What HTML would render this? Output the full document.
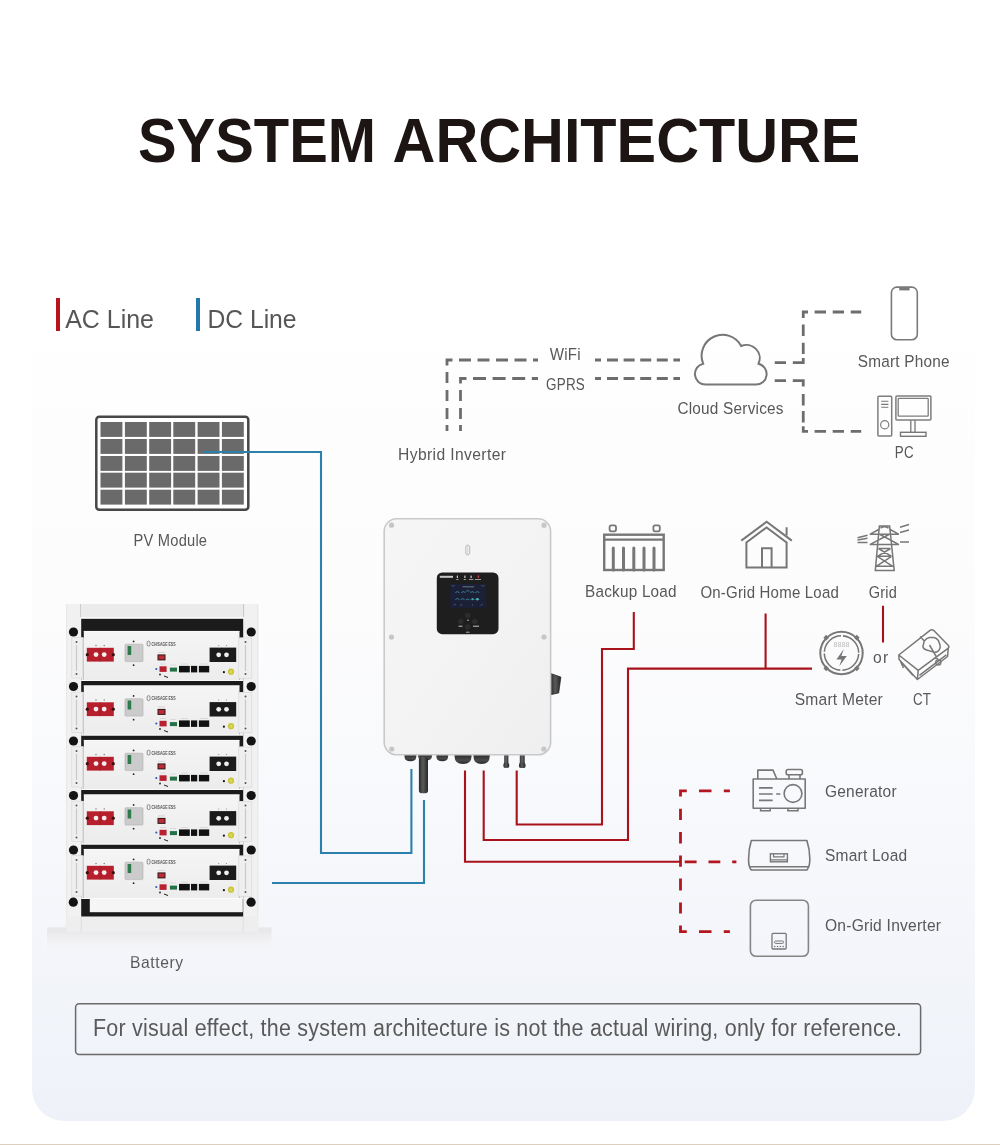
<!DOCTYPE html>
<html><head><meta charset="utf-8">
<style>
html,body{margin:0;padding:0;}
body{width:1000px;height:1145px;overflow:hidden;background:#ffffff;position:relative;font-family:"Liberation Sans",sans-serif;}
.panel{position:absolute;left:32px;top:352px;width:943px;height:769px;border-radius:0 0 32px 32px;background:linear-gradient(180deg,#fefefe 0%,#fcfcfd 35%,#f8f9fc 58%,#f3f5fa 80%,#eef2f8 100%);}
.bline{position:absolute;left:0;top:1143.5px;width:1000px;height:1.5px;background:#dccfbf;}
svg{position:absolute;left:0;top:0;}
text{font-family:"Liberation Sans",sans-serif;}
svg{will-change:transform;}
</style></head>
<body>
<div class="panel"></div>
<div class="bline"></div>
<svg width="1000" height="1145" viewBox="0 0 1000 1145">
<text x="138.00" y="162.00" font-size="63" font-weight="bold" fill="#1d1513" textLength="237.99" lengthAdjust="spacingAndGlyphs" >SYSTEM</text>
<text x="392.60" y="162.00" font-size="63" font-weight="bold" fill="#1d1513" textLength="467.78" lengthAdjust="spacingAndGlyphs" >ARCHITECTURE</text>
<rect x="56" y="298" width="4" height="33" fill="#b8141d"/>
<text x="65.20" y="328.40" font-size="25.5" font-weight="normal" fill="#565656" textLength="88.79" lengthAdjust="spacingAndGlyphs" >AC Line</text>
<rect x="196" y="298" width="4" height="33" fill="#2378ad"/>
<text x="207.40" y="328.40" font-size="25.5" font-weight="normal" fill="#565656" textLength="89.20" lengthAdjust="spacingAndGlyphs" >DC Line</text>
<rect x="96.3" y="416.7" width="152" height="93" rx="3" fill="#ffffff" stroke="#474747" stroke-width="2.5"/>
<rect x="100.5" y="422" width="21.9" height="14.9" fill="#6a6a6a"/>
<rect x="100.5" y="439" width="21.9" height="14.9" fill="#6a6a6a"/>
<rect x="100.5" y="456" width="21.9" height="14.9" fill="#6a6a6a"/>
<rect x="100.5" y="472.7" width="21.9" height="14.9" fill="#6a6a6a"/>
<rect x="100.5" y="489.7" width="21.9" height="14.9" fill="#6a6a6a"/>
<rect x="124.9" y="422" width="21.9" height="14.9" fill="#6a6a6a"/>
<rect x="124.9" y="439" width="21.9" height="14.9" fill="#6a6a6a"/>
<rect x="124.9" y="456" width="21.9" height="14.9" fill="#6a6a6a"/>
<rect x="124.9" y="472.7" width="21.9" height="14.9" fill="#6a6a6a"/>
<rect x="124.9" y="489.7" width="21.9" height="14.9" fill="#6a6a6a"/>
<rect x="149.2" y="422" width="21.9" height="14.9" fill="#6a6a6a"/>
<rect x="149.2" y="439" width="21.9" height="14.9" fill="#6a6a6a"/>
<rect x="149.2" y="456" width="21.9" height="14.9" fill="#6a6a6a"/>
<rect x="149.2" y="472.7" width="21.9" height="14.9" fill="#6a6a6a"/>
<rect x="149.2" y="489.7" width="21.9" height="14.9" fill="#6a6a6a"/>
<rect x="173.3" y="422" width="21.9" height="14.9" fill="#6a6a6a"/>
<rect x="173.3" y="439" width="21.9" height="14.9" fill="#6a6a6a"/>
<rect x="173.3" y="456" width="21.9" height="14.9" fill="#6a6a6a"/>
<rect x="173.3" y="472.7" width="21.9" height="14.9" fill="#6a6a6a"/>
<rect x="173.3" y="489.7" width="21.9" height="14.9" fill="#6a6a6a"/>
<rect x="197.6" y="422" width="21.9" height="14.9" fill="#6a6a6a"/>
<rect x="197.6" y="439" width="21.9" height="14.9" fill="#6a6a6a"/>
<rect x="197.6" y="456" width="21.9" height="14.9" fill="#6a6a6a"/>
<rect x="197.6" y="472.7" width="21.9" height="14.9" fill="#6a6a6a"/>
<rect x="197.6" y="489.7" width="21.9" height="14.9" fill="#6a6a6a"/>
<rect x="221.9" y="422" width="21.9" height="14.9" fill="#6a6a6a"/>
<rect x="221.9" y="439" width="21.9" height="14.9" fill="#6a6a6a"/>
<rect x="221.9" y="456" width="21.9" height="14.9" fill="#6a6a6a"/>
<rect x="221.9" y="472.7" width="21.9" height="14.9" fill="#6a6a6a"/>
<rect x="221.9" y="489.7" width="21.9" height="14.9" fill="#6a6a6a"/>
<path d="M447.00 425.00V431.00M447.00 408.00V419.00M447.00 390.00V401.00M447.00 372.00V383.00M447 365.5V360H452.5M459.00 360.00H471.00M477.50 360.00H489.50M496.00 360.00H508.00M514.50 360.00H526.50M533.00 360.00H538.00M595.00 360.00H601.00M607.00 360.00H618.00M623.60 360.00H634.60M640.20 360.00H651.20M656.80 360.00H667.80M673.40 360.00H680.00M460.50 425.00V431.00M460.50 408.00V419.00M460.50 390.00V401.00M460.5 383.5V378.5H466.5M473.00 378.50H486.00M492.60 378.50H505.60M512.20 378.50H525.20M531.80 378.50H538.00M595.00 378.50H601.00M607.00 378.50H618.00M623.60 378.50H634.60M640.20 378.50H651.20M656.80 378.50H667.80M673.40 378.50H680.00M774.75 362.60H786.00M792.8 362.6H803.25V358M803.25 342.70V354.00M803.25 324.60V336.00M803.25 318V312H808M814.60 312.00H826.00M832.70 312.00H844.00M850.75 312.00H861.20M774.75 380.70H786.00M792.8 380.7H803.25V386.4M803.25 394.00V405.40M803.25 411.00V422.50M803.25 426.3V431.4H808M814.60 431.40H826.00M832.70 431.40H844.00M850.75 431.40H861.20" fill="none" stroke="#6d6d6d" stroke-width="2.8"/>
<path d="M686.8 790.8H680.5V796.5M699.00 790.80H711.50M723.80 790.80H729.90M680.50 808.70V819.90M680.50 832.00V843.60M680.50 855.50V866.70M680.50 878.60V890.50M680.50 902.40V913.60M680.5 925.5V931.7H686.8M699.00 931.70H711.50M723.80 931.70H729.90M684.70 861.80H696.60M708.50 861.80H720.30M732.20 861.80H736.40" fill="none" stroke="#b3161e" stroke-width="2.8"/>
<path d="M203.6 452H321V853H411.4V769M272 883H424V800" fill="none" stroke="#2b80ac" stroke-width="2.1"/>
<path d="M465 770.4V861.8H680.5M483.7 770.4V840H628V668.6H812M516.7 770.4V824.5H602V649H633.8V612M765.6 613.4V668.6M883 605.8V642.5" fill="none" stroke="#a9121b" stroke-width="2.1"/>
<text transform="scale(0.84365616477351 1)" x="158.36" y="546.00" font-size="17.4" font-weight="normal" fill="#585858" style="letter-spacing:0.250px" >PV Module</text>
<text transform="scale(0.9 1)" x="144.33" y="967.70" font-size="17.4" font-weight="normal" fill="#585858" style="letter-spacing:0.665px" >Battery</text>
<text transform="scale(0.9 1)" x="442.22" y="460.50" font-size="17.4" font-weight="normal" fill="#585858" style="letter-spacing:0.421px" >Hybrid Inverter</text>
<text transform="scale(0.8696239509633434 1)" x="632.11" y="359.80" font-size="17.4" font-weight="normal" fill="#585858" style="letter-spacing:0.250px" >WiFi</text>
<text transform="scale(0.7730476053502094 1)" x="706.42" y="389.60" font-size="17.4" font-weight="normal" fill="#585858" style="letter-spacing:0.250px" >GPRS</text>
<text transform="scale(0.8830499314014889 1)" x="767.11" y="414.00" font-size="17.4" font-weight="normal" fill="#585858" style="letter-spacing:0.250px" >Cloud Services</text>
<text transform="scale(0.8822986667486821 1)" x="972.23" y="367.40" font-size="17.4" font-weight="normal" fill="#585858" style="letter-spacing:0.250px" >Smart Phone</text>
<text transform="scale(0.7699049085533187 1)" x="1162.22" y="457.70" font-size="17.4" font-weight="normal" fill="#585858" style="letter-spacing:0.250px" >PC</text>
<text transform="scale(0.87912130144541 1)" x="665.55" y="597.50" font-size="17.4" font-weight="normal" fill="#585858" style="letter-spacing:0.250px" >Backup Load</text>
<text transform="scale(0.8620174569426948 1)" x="812.51" y="598.00" font-size="17.4" font-weight="normal" fill="#585858" style="letter-spacing:0.250px" >On-Grid Home Load</text>
<text transform="scale(0.8358468228897106 1)" x="1039.42" y="598.00" font-size="17.4" font-weight="normal" fill="#585858" style="letter-spacing:0.250px" >Grid</text>
<text transform="scale(0.8969897390890019 1)" x="885.96" y="704.60" font-size="17.4" font-weight="normal" fill="#585858" style="letter-spacing:0.250px" >Smart Meter</text>
<text transform="scale(0.7677805171428328 1)" x="1189.01" y="704.60" font-size="17.4" font-weight="normal" fill="#585858" style="letter-spacing:0.250px" >CT</text>
<text transform="scale(0.9 1)" x="970.00" y="663.20" font-size="17.4" font-weight="normal" fill="#585858" style="letter-spacing:1.420px" >or</text>
<text transform="scale(0.8912700349039273 1)" x="925.65" y="796.60" font-size="17.4" font-weight="normal" fill="#585858" style="letter-spacing:0.250px" >Generator</text>
<text transform="scale(0.8916310339665872 1)" x="925.27" y="861.40" font-size="17.4" font-weight="normal" fill="#585858" style="letter-spacing:0.250px" >Smart Load</text>
<text transform="scale(0.8968880071936446 1)" x="919.85" y="931.00" font-size="17.4" font-weight="normal" fill="#585858" style="letter-spacing:0.250px" >On-Grid Inverter</text>
<rect x="75.6" y="1003.7" width="845" height="50.8" rx="3.5" fill="none" stroke="#6a6a6a" stroke-width="1.5"/>
<text transform="scale(0.8857322279185074 1)" x="105.00" y="1036.10" font-size="24.3" font-weight="normal" fill="#5a5a5a" style="letter-spacing:0.250px" >For visual effect, the system architecture is not the actual wiring, only for reference.</text>
<path d="M705.5 384.6A10.6 10.6 0 0 1 703.13 363.67A21 21 0 0 1 741.16 345.98A13.3 13.3 0 0 1 758.51 363.7A10.6 10.6 0 0 1 756 384.6Z" fill="none" stroke="#777777" stroke-width="2"/>
<rect x="891.4" y="287.1" width="25.9" height="52.6" rx="5.5" fill="none" stroke="#7a7a7a" stroke-width="1.6"/>
<path d="M899.2 289.2H909.6" stroke="#7a7a7a" stroke-width="2.4"/>
<rect x="877.9" y="396.2" width="13.8" height="39.8" rx="1" fill="none" stroke="#7d7d7d" stroke-width="1.5"/>
<path d="M881.2 401.3H888.4M881.2 404.4H888.4M881.2 407.3H888.4" stroke="#777777" stroke-width="1.1"/>
<circle cx="884.7" cy="424.7" r="4.1" fill="none" stroke="#7d7d7d" stroke-width="1.2"/>
<rect x="895.9" y="396.1" width="35" height="24" rx="1" fill="none" stroke="#7d7d7d" stroke-width="1.5"/>
<rect x="898.2" y="398.4" width="30" height="17.8" rx="0.8" fill="none" stroke="#7d7d7d" stroke-width="1.3"/>
<path d="M910.8 420.2V432.2M915 420.2V432.2" stroke="#777777" stroke-width="1.3"/>
<rect x="900.5" y="432.3" width="25.5" height="4" fill="none" stroke="#777777" stroke-width="1.4"/>
<rect x="604.2" y="534.7" width="59.5" height="35.3" fill="none" stroke="#777777" stroke-width="2.4"/>
<path d="M604.2 539.6H663.7" stroke="#777777" stroke-width="2.2"/>
<rect x="609.6" y="525.3" width="6.4" height="6" rx="1.8" fill="none" stroke="#777777" stroke-width="1.8"/>
<rect x="653.4" y="525.3" width="6.4" height="6" rx="1.8" fill="none" stroke="#777777" stroke-width="1.8"/>
<path d="M613.3 548V570" stroke="#777777" stroke-width="3" stroke-linecap="round"/>
<path d="M623.5 548V570" stroke="#777777" stroke-width="3" stroke-linecap="round"/>
<path d="M633.8 548V570" stroke="#777777" stroke-width="3" stroke-linecap="round"/>
<path d="M644 548V570" stroke="#777777" stroke-width="3" stroke-linecap="round"/>
<path d="M654 548V570" stroke="#777777" stroke-width="3" stroke-linecap="round"/>
<path d="M741.3 540.6L766.6 521.8L791.8 540.6" fill="none" stroke="#777777" stroke-width="2"/>
<path d="M746.4 567.5V542.4L766.6 527.4L786.6 542.4V567.5ZM786.6 527.2V535.5" fill="none" stroke="#777777" stroke-width="2"/>
<path d="M762 567.5V548.3H771.6V567.5" fill="none" stroke="#777777" stroke-width="2"/>
<path d="M879.4 528.4V525.9H889.6V528.4M879.3 526.5L875.3 570.6H894.2L889.7 526.5M869.8 534.3H899M869.8 534.3L879.7 529M899 534.3L889.3 529M869.8 544.6H899M869.8 544.6L889 534.5M899 544.6L880 534.5M878.4 548.5H890.6M878.4 548.5L891.6 556.3M890.6 548.5L877.4 556.3M877.4 556.3H891.6M877.4 556.3L892.8 566.3M891.6 556.3L876.2 566.3M876.2 566.3H892.8M880.6 528.2Q884.5 525.2 888.4 528.2M857.5 537.7L867.5 535.3M857.5 540L867.5 538.3M857.5 542.4H867.5M900 527.3L909 524.5M900 532.5L909 530M900 542H909" fill="none" stroke="#777777" stroke-width="1.5"/>
<circle cx="841.5" cy="653" r="21.2" fill="none" stroke="#777777" stroke-width="2"/>
<circle cx="841.5" cy="653" r="17.2" fill="none" stroke="#777777" stroke-width="1.6" stroke-dasharray="25.02 2" stroke-dashoffset="26"/>
<rect x="824.2" y="635.7" width="4" height="4" fill="#777777" transform="rotate(45 826.2 637.7)"/>
<rect x="854.8" y="635.7" width="4" height="4" fill="#777777" transform="rotate(45 856.8 637.7)"/>
<rect x="824.2" y="666.3" width="4" height="4" fill="#777777" transform="rotate(45 826.2 668.3)"/>
<rect x="854.8" y="666.3" width="4" height="4" fill="#777777" transform="rotate(45 856.8 668.3)"/>
<text x="833.4" y="646.6" font-size="6.5" fill="#bdbdbd" textLength="16" lengthAdjust="spacingAndGlyphs">8888</text>
<path d="M843.8 649L836.4 659.6H841.6L839.3 666.3L846.8 656H841.4Z" fill="#777777"/>
<path d="M898.8 655L930 630.3Q932 628.9 933.8 630.6L948.2 645.3Q949.6 647 948 648.4L918.2 670.4ZM898.8 655L899.1 659.6L917.4 679.5L918.2 670.4M917.4 679.5L947.6 656.5L948.2 648.4M900.6 661.6L903.5 668M903.5 664.8L912.8 675.2M919.4 675.4L946.4 654.8M924.3 641Q926.5 638 929.5 637.6L933.4 637.4Q936 637.3 938.4 640.5L940 645Q941 648.6 937.8 651.4Q935.5 653 932 651.6L926 649.8Q923.3 649 922.9 646.4ZM920.1 636.4L924.3 641M929.5 645L938 659.6" fill="none" stroke="#777777" stroke-width="1.5" stroke-linejoin="round"/>
<circle cx="938.3" cy="662.4" r="2.6" fill="none" stroke="#777777" stroke-width="1.3"/>
<path d="M753.2 779H805.2V808.3H753.2ZM757.8 779V770.1H773L776.9 779M759 787.9H772.7M759 794H772.7M759 800.4H772.7M776.2 794H780.4" fill="none" stroke="#777777" stroke-width="1.6" stroke-linejoin="round"/>
<rect x="786.2" y="769.5" width="16.2" height="5.3" rx="1.8" fill="none" stroke="#777777" stroke-width="1.6"/>
<path d="M789 774.8V779M800 774.8V779" fill="none" stroke="#777777" stroke-width="1.6"/>
<circle cx="793" cy="793.5" r="8.9" fill="none" stroke="#777777" stroke-width="1.6"/>
<path d="M760.6 808.3V810.7H770.2V808.3M787.9 808.3V810.7H798V808.3" fill="none" stroke="#777777" stroke-width="1.5"/>
<path d="M751.3 840.5H806.9Q810 850 809.8 860Q809.8 866.5 806.9 870H751.3Q748.5 866.5 748.6 860Q748.4 850 751.3 840.5ZM750 866.8H808.6" fill="none" stroke="#777777" stroke-width="1.6" stroke-linejoin="round"/>
<rect x="770.4" y="853.8" width="17" height="8" fill="none" stroke="#777777" stroke-width="1.4"/>
<path d="M773.6 853.8V856.8H784V853.8M770.4 859.8H787.4" fill="none" stroke="#777777" stroke-width="1.2"/>
<rect x="750.4" y="900.2" width="58" height="56" rx="5.5" fill="none" stroke="#858585" stroke-width="1.6"/>
<rect x="772" y="933.4" width="14.2" height="15.6" rx="1" fill="none" stroke="#777777" stroke-width="1.3"/>
<rect x="774.6" y="941" width="9" height="2.4" rx="1" fill="none" stroke="#777777" stroke-width="1"/>
<circle cx="774.8" cy="946.5" r="0.8" fill="#777777"/>
<circle cx="777.6" cy="946.5" r="0.8" fill="#777777"/>
<circle cx="780.4" cy="946.5" r="0.8" fill="#777777"/>
<circle cx="783.2" cy="946.5" r="0.8" fill="#777777"/>
<defs>
<linearGradient id="invg" x1="0" y1="0" x2="1" y2="1">
<stop offset="0" stop-color="#f6f6f6"/><stop offset="0.5" stop-color="#f3f3f3"/><stop offset="1" stop-color="#efefef"/>
</linearGradient>
<linearGradient id="cable" x1="0" y1="0" x2="1" y2="0">
<stop offset="0" stop-color="#2b2b2b"/><stop offset="0.45" stop-color="#5a5a5a"/><stop offset="1" stop-color="#262626"/>
</linearGradient>
<linearGradient id="gland" x1="0" y1="0" x2="0" y2="1">
<stop offset="0" stop-color="#2a2a2a"/><stop offset="0.6" stop-color="#4a4a4a"/><stop offset="1" stop-color="#2a2a2a"/>
</linearGradient>
<linearGradient id="modg" x1="0" y1="0" x2="0" y2="1">
<stop offset="0" stop-color="#f5f5f5"/><stop offset="1" stop-color="#ececec"/>
</linearGradient>
<linearGradient id="shadowg" x1="0" y1="0" x2="0" y2="1">
<stop offset="0" stop-color="#e9e9ea"/><stop offset="1" stop-color="#f4f5f8" stop-opacity="0"/>
</linearGradient>
</defs>
<path d="M550.6 673.4L560.9 677.1L558.7 692.9L550.6 694.7Z" fill="url(#cable)" stroke="#1e1e1e" stroke-width="0.7" stroke-linejoin="round"/>
<path d="M404.5 754.5H416.3V756.5Q416.3 761.2 410.40 761.2Q404.5 761.2 404.5 756.5Z" fill="url(#gland)"/>
<path d="M436.4 754.5H448.1V756.5Q448.1 761.2 442.25 761.2Q436.4 761.2 436.4 756.5Z" fill="url(#gland)"/>
<path d="M454.6 754.5H471.5V756.5Q471.5 764 463.05 764Q454.6 764 454.6 756.5Z" fill="url(#gland)"/>
<path d="M473.5 754.5H489.7V756.5Q489.7 764 481.60 764Q473.5 764 473.5 756.5Z" fill="url(#gland)"/>
<path d="M418.2 754.5H431.9V756.5Q431.9 760.4 425.05 760.4Q418.2 760.4 418.2 756.5Z" fill="url(#gland)"/>
<rect x="418.9" y="757" width="9.1" height="36.2" rx="2.6" fill="url(#cable)"/>
<path d="M504.2 754.5H508.4V762.5L509.2 764.5V766.5Q509.2 768 506.30 768Q503.4 768 503.4 766.5V764.5L504.2 762.5Z" fill="url(#cable)"/>
<path d="M506.30 756V762" stroke="#777" stroke-width="0.6"/>
<path d="M519.8 754.5H524.7V762.5L525.5 764.5V766.5Q525.5 768 522.25 768Q519 768 519 766.5V764.5L519.8 762.5Z" fill="url(#cable)"/>
<path d="M522.25 756V762" stroke="#777" stroke-width="0.6"/>
<rect x="384.2" y="518.8" width="166.4" height="236" rx="12.5" fill="url(#invg)" stroke="#c9c9c9" stroke-width="1.6"/>
<circle cx="391.5" cy="525.2" r="2.6" fill="#c6c6c6"/>
<circle cx="544" cy="525.2" r="2.6" fill="#c6c6c6"/>
<circle cx="391.5" cy="637" r="2.6" fill="#c6c6c6"/>
<circle cx="544" cy="637" r="2.6" fill="#c6c6c6"/>
<circle cx="391.8" cy="749" r="2.6" fill="#c6c6c6"/>
<circle cx="543.8" cy="749" r="2.6" fill="#c6c6c6"/>
<path d="M465.8 546.5Q467.7 543.8 469.6 546.5V553.5Q467.7 556.2 465.8 553.5Z" fill="none" stroke="#c4c4c4" stroke-width="1.3"/>
<path d="M467.7 545.5V555" stroke="#d0d0d0" stroke-width="0.8"/>
<rect x="436.8" y="572.5" width="61.7" height="61.7" rx="5.5" fill="#1e1e1e"/>
<rect x="450.2" y="583.9" width="36" height="24" fill="#1b2036"/>
<path d="M462.5 586.8H474" stroke="#9aa3b8" stroke-width="0.9" opacity="0.7"/>
<path d="M451.5 585.8H455M481 585.8H484.5" stroke="#7d869c" stroke-width="0.6" opacity="0.7"/>
<path d="M455.59999999999997 592.8000000000001A2 2 0 0 1 459.2 592.8000000000001" fill="none" stroke="#3f8ea8" stroke-width="0.9"/>
<path d="M461.5 592.8000000000001A2 2 0 0 1 465.1 592.8000000000001" fill="none" stroke="#3f8ea8" stroke-width="0.9"/>
<path d="M465.9 591.7A2 2 0 0 1 469.5 591.7" fill="none" stroke="#3f8ea8" stroke-width="0.9"/>
<path d="M470.5 592.8000000000001A2 2 0 0 1 474.1 592.8000000000001" fill="none" stroke="#3f8ea8" stroke-width="0.9"/>
<path d="M475.59999999999997 592.8000000000001A2 2 0 0 1 479.2 592.8000000000001" fill="none" stroke="#3f8ea8" stroke-width="0.9"/>
<path d="M455.59999999999997 599.7A2 2 0 0 1 459.2 599.7" fill="none" stroke="#3f8ea8" stroke-width="0.9"/>
<path d="M460.8 599.8000000000001A2 2 0 0 1 464.40000000000003 599.8000000000001" fill="none" stroke="#3f8ea8" stroke-width="0.9"/>
<path d="M465.9 600.2A2 2 0 0 1 469.5 600.2" fill="none" stroke="#3f8ea8" stroke-width="0.9"/>
<path d="M470.7 599.8000000000001A2 2 0 0 1 474.3 599.8000000000001" fill="none" stroke="#3f8ea8" stroke-width="0.9"/>
<path d="M475.59999999999997 599.7A2 2 0 0 1 479.2 599.7" fill="none" stroke="#3f8ea8" stroke-width="0.9"/>
<circle cx="472.6" cy="599.2" r="1" fill="#3aa89a"/><circle cx="477.4" cy="599.2" r="1.2" fill="#48b5b0"/>
<path d="M454 605.5L455.5 604M460.5 605H462M472 605H473M481 605.5L482.5 604" stroke="#4b8fb0" stroke-width="0.8"/>
<rect x="439.8" y="575.8" width="13.2" height="2" fill="#e6e6e6" opacity="0.85"/>
<rect x="456.8" y="575.6" width="1.2" height="2.4" fill="#d0d0d0"/><rect x="464.3" y="575.6" width="1.2" height="2.4" fill="#d0d0d0"/><rect x="470.5" y="575.6" width="1.2" height="2.4" fill="#d0d0d0"/><rect x="477.8" y="575.4" width="1.3" height="2.4" fill="#d84848"/>
<path d="M456.3 579.5H458.5M463.7 579.5H466M468.8 579.5H473.4M475 579.5H481" stroke="#bdbdbd" stroke-width="0.8"/>
<circle cx="467.7" cy="615.5" r="2.8" fill="#2c2c2c"/>
<circle cx="460.7" cy="621.5" r="2.8" fill="#2c2c2c"/>
<circle cx="474.7" cy="621.5" r="2.8" fill="#2c2c2c"/>
<circle cx="467.7" cy="627" r="2.8" fill="#2c2c2c"/>
<path d="M458.5 626.2H462.5M473 626.2H479" stroke="#d9d9d9" stroke-width="0.9"/>
<path d="M466 632.2H469.5" stroke="#d0d0d0" stroke-width="0.8"/><path d="M467 620.2H469" stroke="#d0d0d0" stroke-width="0.8"/>
<defs><linearGradient id="floorg" x1="0" y1="0" x2="0" y2="1"><stop offset="0" stop-color="#e6e6e8"/><stop offset="0.35" stop-color="#f0f0f2"/><stop offset="1" stop-color="#f7f8fa" stop-opacity="0"/></linearGradient></defs>
<rect x="47" y="927.6" width="224.4" height="34" fill="url(#floorg)"/>
<rect x="47" y="927.6" width="224.4" height="4.4" fill="#e8e8ea"/>
<rect x="66.2" y="604" width="15" height="328" fill="#f1f1f1"/>
<rect x="243.2" y="604" width="15" height="328" fill="#f1f1f1"/>
<path d="M80.8 604V617M243.6 604V617" stroke="#b8b8b8" stroke-width="0.9"/>
<path d="M66.6 604V932M257.8 604V932" stroke="#e2e2e2" stroke-width="0.8"/>
<rect x="81.2" y="604" width="162" height="13.2" fill="#ebebeb"/>
<rect x="81.2" y="617.2" width="162" height="1.6" fill="#fbfbfb"/>
<rect x="81.2" y="618.8" width="162" height="298" fill="#1b1b1b"/>
<rect x="89.8" y="898.2" width="153" height="14" fill="#f5f5f5"/>
<rect x="66.2" y="916.6" width="192" height="15.4" fill="#eeeeee"/>
<path d="M81.2 916.6V932M243.2 916.6V932" stroke="#dcdcdc" stroke-width="0.8"/>
<rect x="83.8" y="631" width="155.7" height="50" fill="url(#modg)"/>
<rect x="81.2" y="637.5" width="2.6" height="43.5" fill="#ececec"/><rect x="239.5" y="637.5" width="3.7" height="43.5" fill="#ececec"/>
<path d="M81.2 680.5H243.2" stroke="#fbfbfb" stroke-width="1"/>
<path d="M83.8 631.4H239.5" stroke="#fafafa" stroke-width="0.8"/>
<rect x="71.8" y="637.6" width="10.8" height="40.4" fill="#efefef" stroke="#d6d6d6" stroke-width="0.6"/>
<rect x="238.8" y="638" width="13" height="40.2" fill="#efefef" stroke="#d6d6d6" stroke-width="0.6"/>
<path d="M76.5 645V671M245.5 645V671" stroke="#c8c8c8" stroke-width="1.2"/>
<circle cx="76.5" cy="642" r="1" fill="#555"/><circle cx="76.5" cy="674" r="1" fill="#555"/><circle cx="245.5" cy="642" r="1" fill="#555"/><circle cx="245.5" cy="674" r="1" fill="#555"/>
<circle cx="73.5" cy="632" r="4.6" fill="#131313"/><circle cx="251.2" cy="632" r="4.6" fill="#131313"/>
<rect x="86.8" y="647.8" width="27" height="13.8" fill="#b71f2d"/>
<path d="M100.3 647.8V661.6" stroke="#9a1a24" stroke-width="0.6"/>
<circle cx="87.3" cy="654.7" r="1.6" fill="#3a1012"/><circle cx="113.3" cy="654.7" r="1.6" fill="#3a1012"/>
<circle cx="96" cy="654.6" r="2.4" fill="#f4eeee"/><circle cx="104.2" cy="654.6" r="2.4" fill="#f4eeee"/>
<circle cx="96" cy="645.5" r="0.7" fill="#777"/><circle cx="104.2" cy="645.5" r="0.7" fill="#777"/>
<rect x="125" y="644.2" width="18" height="17.4" rx="1" fill="#cbcbcb" stroke="#b0b0b0" stroke-width="0.6"/>
<rect x="127.6" y="646" width="3.6" height="9" fill="#2f7a4c"/>
<circle cx="133.6" cy="641.4" r="0.9" fill="#222"/><circle cx="133.6" cy="665.2" r="0.9" fill="#222"/>
<path d="M147.2 641.8Q148.6 640.5 150 641.8V645.5Q148.6 646.8 147.2 645.5Z" fill="none" stroke="#666" stroke-width="0.7"/>
<text x="151.5" y="645.5" font-size="4.8" font-weight="bold" fill="#555" textLength="24" lengthAdjust="spacingAndGlyphs">CHISAGE ESS</text>
<rect x="157.5" y="654.4" width="8" height="6" fill="#2a1a1a"/><rect x="158.5" y="655.4" width="6" height="4" fill="#c02a36"/>
<path d="M158 652.4H165" stroke="#bbb" stroke-width="0.5"/>
<circle cx="156.3" cy="669" r="1.1" fill="#2b5bc8"/>
<rect x="159.5" y="666.3" width="7.1" height="5.6" fill="#b82230"/>
<rect x="169.9" y="667.6" width="7.1" height="4" fill="#237245"/>
<rect x="179" y="665.9" width="10.8" height="6.5" fill="#111"/>
<rect x="191" y="665.9" width="6.2" height="6.5" fill="#111"/>
<rect x="198.9" y="665.9" width="10.3" height="6.5" fill="#111"/>
<path d="M160 664H166M170 665H176M181 664H188M200 664H208" stroke="#c4c4c4" stroke-width="0.5"/>
<circle cx="160" cy="674.5" r="0.9" fill="#222"/><path d="M164 676L168 677.5" stroke="#222" stroke-width="1"/>
<rect x="209.6" y="647.6" width="26.6" height="14.4" fill="#1b1b1b"/>
<circle cx="218.7" cy="654.8" r="2.4" fill="#f0f0f0"/><circle cx="226.5" cy="654.8" r="2.4" fill="#f0f0f0"/>
<circle cx="218.7" cy="645.5" r="0.6" fill="#888"/><circle cx="226.5" cy="645.5" r="0.6" fill="#888"/>
<circle cx="223.9" cy="672.2" r="1.1" fill="#151515"/>
<circle cx="231" cy="671.7" r="3.1" fill="#c9c63a"/><circle cx="231" cy="671.7" r="1.5" fill="#dcd95a"/>
<rect x="83.8" y="685.5" width="155.7" height="50" fill="url(#modg)"/>
<rect x="81.2" y="692.0" width="2.6" height="43.5" fill="#ececec"/><rect x="239.5" y="692.0" width="3.7" height="43.5" fill="#ececec"/>
<path d="M81.2 735.0H243.2" stroke="#fbfbfb" stroke-width="1"/>
<path d="M83.8 685.9H239.5" stroke="#fafafa" stroke-width="0.8"/>
<rect x="71.8" y="692.1" width="10.8" height="40.4" fill="#efefef" stroke="#d6d6d6" stroke-width="0.6"/>
<rect x="238.8" y="692.5" width="13" height="40.2" fill="#efefef" stroke="#d6d6d6" stroke-width="0.6"/>
<path d="M76.5 699.5V725.5M245.5 699.5V725.5" stroke="#c8c8c8" stroke-width="1.2"/>
<circle cx="76.5" cy="696.5" r="1" fill="#555"/><circle cx="76.5" cy="728.5" r="1" fill="#555"/><circle cx="245.5" cy="696.5" r="1" fill="#555"/><circle cx="245.5" cy="728.5" r="1" fill="#555"/>
<circle cx="73.5" cy="686.5" r="4.6" fill="#131313"/><circle cx="251.2" cy="686.5" r="4.6" fill="#131313"/>
<rect x="86.8" y="702.3" width="27" height="13.8" fill="#b71f2d"/>
<path d="M100.3 702.3V716.1" stroke="#9a1a24" stroke-width="0.6"/>
<circle cx="87.3" cy="709.2" r="1.6" fill="#3a1012"/><circle cx="113.3" cy="709.2" r="1.6" fill="#3a1012"/>
<circle cx="96" cy="709.1" r="2.4" fill="#f4eeee"/><circle cx="104.2" cy="709.1" r="2.4" fill="#f4eeee"/>
<circle cx="96" cy="700.0" r="0.7" fill="#777"/><circle cx="104.2" cy="700.0" r="0.7" fill="#777"/>
<rect x="125" y="698.7" width="18" height="17.4" rx="1" fill="#cbcbcb" stroke="#b0b0b0" stroke-width="0.6"/>
<rect x="127.6" y="700.5" width="3.6" height="9" fill="#2f7a4c"/>
<circle cx="133.6" cy="695.9" r="0.9" fill="#222"/><circle cx="133.6" cy="719.7" r="0.9" fill="#222"/>
<path d="M147.2 696.3Q148.6 695.0 150 696.3V700.0Q148.6 701.3 147.2 700.0Z" fill="none" stroke="#666" stroke-width="0.7"/>
<text x="151.5" y="700.0" font-size="4.8" font-weight="bold" fill="#555" textLength="24" lengthAdjust="spacingAndGlyphs">CHISAGE ESS</text>
<rect x="157.5" y="708.9" width="8" height="6" fill="#2a1a1a"/><rect x="158.5" y="709.9" width="6" height="4" fill="#c02a36"/>
<path d="M158 706.9H165" stroke="#bbb" stroke-width="0.5"/>
<circle cx="156.3" cy="723.5" r="1.1" fill="#2b5bc8"/>
<rect x="159.5" y="720.8" width="7.1" height="5.6" fill="#b82230"/>
<rect x="169.9" y="722.1" width="7.1" height="4" fill="#237245"/>
<rect x="179" y="720.4" width="10.8" height="6.5" fill="#111"/>
<rect x="191" y="720.4" width="6.2" height="6.5" fill="#111"/>
<rect x="198.9" y="720.4" width="10.3" height="6.5" fill="#111"/>
<path d="M160 718.5H166M170 719.5H176M181 718.5H188M200 718.5H208" stroke="#c4c4c4" stroke-width="0.5"/>
<circle cx="160" cy="729.0" r="0.9" fill="#222"/><path d="M164 730.5L168 732.0" stroke="#222" stroke-width="1"/>
<rect x="209.6" y="702.1" width="26.6" height="14.4" fill="#1b1b1b"/>
<circle cx="218.7" cy="709.3" r="2.4" fill="#f0f0f0"/><circle cx="226.5" cy="709.3" r="2.4" fill="#f0f0f0"/>
<circle cx="218.7" cy="700.0" r="0.6" fill="#888"/><circle cx="226.5" cy="700.0" r="0.6" fill="#888"/>
<circle cx="223.9" cy="726.7" r="1.1" fill="#151515"/>
<circle cx="231" cy="726.2" r="3.1" fill="#c9c63a"/><circle cx="231" cy="726.2" r="1.5" fill="#dcd95a"/>
<rect x="83.8" y="740" width="155.7" height="50" fill="url(#modg)"/>
<rect x="81.2" y="746.5" width="2.6" height="43.5" fill="#ececec"/><rect x="239.5" y="746.5" width="3.7" height="43.5" fill="#ececec"/>
<path d="M81.2 789.5H243.2" stroke="#fbfbfb" stroke-width="1"/>
<path d="M83.8 740.4H239.5" stroke="#fafafa" stroke-width="0.8"/>
<rect x="71.8" y="746.6" width="10.8" height="40.4" fill="#efefef" stroke="#d6d6d6" stroke-width="0.6"/>
<rect x="238.8" y="747" width="13" height="40.2" fill="#efefef" stroke="#d6d6d6" stroke-width="0.6"/>
<path d="M76.5 754V780M245.5 754V780" stroke="#c8c8c8" stroke-width="1.2"/>
<circle cx="76.5" cy="751" r="1" fill="#555"/><circle cx="76.5" cy="783" r="1" fill="#555"/><circle cx="245.5" cy="751" r="1" fill="#555"/><circle cx="245.5" cy="783" r="1" fill="#555"/>
<circle cx="73.5" cy="741" r="4.6" fill="#131313"/><circle cx="251.2" cy="741" r="4.6" fill="#131313"/>
<rect x="86.8" y="756.8" width="27" height="13.8" fill="#b71f2d"/>
<path d="M100.3 756.8V770.6" stroke="#9a1a24" stroke-width="0.6"/>
<circle cx="87.3" cy="763.7" r="1.6" fill="#3a1012"/><circle cx="113.3" cy="763.7" r="1.6" fill="#3a1012"/>
<circle cx="96" cy="763.6" r="2.4" fill="#f4eeee"/><circle cx="104.2" cy="763.6" r="2.4" fill="#f4eeee"/>
<circle cx="96" cy="754.5" r="0.7" fill="#777"/><circle cx="104.2" cy="754.5" r="0.7" fill="#777"/>
<rect x="125" y="753.2" width="18" height="17.4" rx="1" fill="#cbcbcb" stroke="#b0b0b0" stroke-width="0.6"/>
<rect x="127.6" y="755" width="3.6" height="9" fill="#2f7a4c"/>
<circle cx="133.6" cy="750.4" r="0.9" fill="#222"/><circle cx="133.6" cy="774.2" r="0.9" fill="#222"/>
<path d="M147.2 750.8Q148.6 749.5 150 750.8V754.5Q148.6 755.8 147.2 754.5Z" fill="none" stroke="#666" stroke-width="0.7"/>
<text x="151.5" y="754.5" font-size="4.8" font-weight="bold" fill="#555" textLength="24" lengthAdjust="spacingAndGlyphs">CHISAGE ESS</text>
<rect x="157.5" y="763.4" width="8" height="6" fill="#2a1a1a"/><rect x="158.5" y="764.4" width="6" height="4" fill="#c02a36"/>
<path d="M158 761.4H165" stroke="#bbb" stroke-width="0.5"/>
<circle cx="156.3" cy="778" r="1.1" fill="#2b5bc8"/>
<rect x="159.5" y="775.3" width="7.1" height="5.6" fill="#b82230"/>
<rect x="169.9" y="776.6" width="7.1" height="4" fill="#237245"/>
<rect x="179" y="774.9" width="10.8" height="6.5" fill="#111"/>
<rect x="191" y="774.9" width="6.2" height="6.5" fill="#111"/>
<rect x="198.9" y="774.9" width="10.3" height="6.5" fill="#111"/>
<path d="M160 773H166M170 774H176M181 773H188M200 773H208" stroke="#c4c4c4" stroke-width="0.5"/>
<circle cx="160" cy="783.5" r="0.9" fill="#222"/><path d="M164 785L168 786.5" stroke="#222" stroke-width="1"/>
<rect x="209.6" y="756.6" width="26.6" height="14.4" fill="#1b1b1b"/>
<circle cx="218.7" cy="763.8" r="2.4" fill="#f0f0f0"/><circle cx="226.5" cy="763.8" r="2.4" fill="#f0f0f0"/>
<circle cx="218.7" cy="754.5" r="0.6" fill="#888"/><circle cx="226.5" cy="754.5" r="0.6" fill="#888"/>
<circle cx="223.9" cy="781.2" r="1.1" fill="#151515"/>
<circle cx="231" cy="780.7" r="3.1" fill="#c9c63a"/><circle cx="231" cy="780.7" r="1.5" fill="#dcd95a"/>
<rect x="83.8" y="794.5" width="155.7" height="50" fill="url(#modg)"/>
<rect x="81.2" y="801.0" width="2.6" height="43.5" fill="#ececec"/><rect x="239.5" y="801.0" width="3.7" height="43.5" fill="#ececec"/>
<path d="M81.2 844.0H243.2" stroke="#fbfbfb" stroke-width="1"/>
<path d="M83.8 794.9H239.5" stroke="#fafafa" stroke-width="0.8"/>
<rect x="71.8" y="801.1" width="10.8" height="40.4" fill="#efefef" stroke="#d6d6d6" stroke-width="0.6"/>
<rect x="238.8" y="801.5" width="13" height="40.2" fill="#efefef" stroke="#d6d6d6" stroke-width="0.6"/>
<path d="M76.5 808.5V834.5M245.5 808.5V834.5" stroke="#c8c8c8" stroke-width="1.2"/>
<circle cx="76.5" cy="805.5" r="1" fill="#555"/><circle cx="76.5" cy="837.5" r="1" fill="#555"/><circle cx="245.5" cy="805.5" r="1" fill="#555"/><circle cx="245.5" cy="837.5" r="1" fill="#555"/>
<circle cx="73.5" cy="795.5" r="4.6" fill="#131313"/><circle cx="251.2" cy="795.5" r="4.6" fill="#131313"/>
<rect x="86.8" y="811.3" width="27" height="13.8" fill="#b71f2d"/>
<path d="M100.3 811.3V825.1" stroke="#9a1a24" stroke-width="0.6"/>
<circle cx="87.3" cy="818.2" r="1.6" fill="#3a1012"/><circle cx="113.3" cy="818.2" r="1.6" fill="#3a1012"/>
<circle cx="96" cy="818.1" r="2.4" fill="#f4eeee"/><circle cx="104.2" cy="818.1" r="2.4" fill="#f4eeee"/>
<circle cx="96" cy="809.0" r="0.7" fill="#777"/><circle cx="104.2" cy="809.0" r="0.7" fill="#777"/>
<rect x="125" y="807.7" width="18" height="17.4" rx="1" fill="#cbcbcb" stroke="#b0b0b0" stroke-width="0.6"/>
<rect x="127.6" y="809.5" width="3.6" height="9" fill="#2f7a4c"/>
<circle cx="133.6" cy="804.9" r="0.9" fill="#222"/><circle cx="133.6" cy="828.7" r="0.9" fill="#222"/>
<path d="M147.2 805.3Q148.6 804.0 150 805.3V809.0Q148.6 810.3 147.2 809.0Z" fill="none" stroke="#666" stroke-width="0.7"/>
<text x="151.5" y="809.0" font-size="4.8" font-weight="bold" fill="#555" textLength="24" lengthAdjust="spacingAndGlyphs">CHISAGE ESS</text>
<rect x="157.5" y="817.9" width="8" height="6" fill="#2a1a1a"/><rect x="158.5" y="818.9" width="6" height="4" fill="#c02a36"/>
<path d="M158 815.9H165" stroke="#bbb" stroke-width="0.5"/>
<circle cx="156.3" cy="832.5" r="1.1" fill="#2b5bc8"/>
<rect x="159.5" y="829.8" width="7.1" height="5.6" fill="#b82230"/>
<rect x="169.9" y="831.1" width="7.1" height="4" fill="#237245"/>
<rect x="179" y="829.4" width="10.8" height="6.5" fill="#111"/>
<rect x="191" y="829.4" width="6.2" height="6.5" fill="#111"/>
<rect x="198.9" y="829.4" width="10.3" height="6.5" fill="#111"/>
<path d="M160 827.5H166M170 828.5H176M181 827.5H188M200 827.5H208" stroke="#c4c4c4" stroke-width="0.5"/>
<circle cx="160" cy="838.0" r="0.9" fill="#222"/><path d="M164 839.5L168 841.0" stroke="#222" stroke-width="1"/>
<rect x="209.6" y="811.1" width="26.6" height="14.4" fill="#1b1b1b"/>
<circle cx="218.7" cy="818.3" r="2.4" fill="#f0f0f0"/><circle cx="226.5" cy="818.3" r="2.4" fill="#f0f0f0"/>
<circle cx="218.7" cy="809.0" r="0.6" fill="#888"/><circle cx="226.5" cy="809.0" r="0.6" fill="#888"/>
<circle cx="223.9" cy="835.7" r="1.1" fill="#151515"/>
<circle cx="231" cy="835.2" r="3.1" fill="#c9c63a"/><circle cx="231" cy="835.2" r="1.5" fill="#dcd95a"/>
<rect x="83.8" y="849" width="155.7" height="50" fill="url(#modg)"/>
<rect x="81.2" y="855.5" width="2.6" height="43.5" fill="#ececec"/><rect x="239.5" y="855.5" width="3.7" height="43.5" fill="#ececec"/>
<path d="M81.2 898.5H243.2" stroke="#fbfbfb" stroke-width="1"/>
<path d="M83.8 849.4H239.5" stroke="#fafafa" stroke-width="0.8"/>
<rect x="71.8" y="855.6" width="10.8" height="40.4" fill="#efefef" stroke="#d6d6d6" stroke-width="0.6"/>
<rect x="238.8" y="856" width="13" height="40.2" fill="#efefef" stroke="#d6d6d6" stroke-width="0.6"/>
<path d="M76.5 863V889M245.5 863V889" stroke="#c8c8c8" stroke-width="1.2"/>
<circle cx="76.5" cy="860" r="1" fill="#555"/><circle cx="76.5" cy="892" r="1" fill="#555"/><circle cx="245.5" cy="860" r="1" fill="#555"/><circle cx="245.5" cy="892" r="1" fill="#555"/>
<circle cx="73.5" cy="850" r="4.6" fill="#131313"/><circle cx="251.2" cy="850" r="4.6" fill="#131313"/>
<rect x="86.8" y="865.8" width="27" height="13.8" fill="#b71f2d"/>
<path d="M100.3 865.8V879.6" stroke="#9a1a24" stroke-width="0.6"/>
<circle cx="87.3" cy="872.7" r="1.6" fill="#3a1012"/><circle cx="113.3" cy="872.7" r="1.6" fill="#3a1012"/>
<circle cx="96" cy="872.6" r="2.4" fill="#f4eeee"/><circle cx="104.2" cy="872.6" r="2.4" fill="#f4eeee"/>
<circle cx="96" cy="863.5" r="0.7" fill="#777"/><circle cx="104.2" cy="863.5" r="0.7" fill="#777"/>
<rect x="125" y="862.2" width="18" height="17.4" rx="1" fill="#cbcbcb" stroke="#b0b0b0" stroke-width="0.6"/>
<rect x="127.6" y="864" width="3.6" height="9" fill="#2f7a4c"/>
<circle cx="133.6" cy="859.4" r="0.9" fill="#222"/><circle cx="133.6" cy="883.2" r="0.9" fill="#222"/>
<path d="M147.2 859.8Q148.6 858.5 150 859.8V863.5Q148.6 864.8 147.2 863.5Z" fill="none" stroke="#666" stroke-width="0.7"/>
<text x="151.5" y="863.5" font-size="4.8" font-weight="bold" fill="#555" textLength="24" lengthAdjust="spacingAndGlyphs">CHISAGE ESS</text>
<rect x="157.5" y="872.4" width="8" height="6" fill="#2a1a1a"/><rect x="158.5" y="873.4" width="6" height="4" fill="#c02a36"/>
<path d="M158 870.4H165" stroke="#bbb" stroke-width="0.5"/>
<circle cx="156.3" cy="887" r="1.1" fill="#2b5bc8"/>
<rect x="159.5" y="884.3" width="7.1" height="5.6" fill="#b82230"/>
<rect x="169.9" y="885.6" width="7.1" height="4" fill="#237245"/>
<rect x="179" y="883.9" width="10.8" height="6.5" fill="#111"/>
<rect x="191" y="883.9" width="6.2" height="6.5" fill="#111"/>
<rect x="198.9" y="883.9" width="10.3" height="6.5" fill="#111"/>
<path d="M160 882H166M170 883H176M181 882H188M200 882H208" stroke="#c4c4c4" stroke-width="0.5"/>
<circle cx="160" cy="892.5" r="0.9" fill="#222"/><path d="M164 894L168 895.5" stroke="#222" stroke-width="1"/>
<rect x="209.6" y="865.6" width="26.6" height="14.4" fill="#1b1b1b"/>
<circle cx="218.7" cy="872.8" r="2.4" fill="#f0f0f0"/><circle cx="226.5" cy="872.8" r="2.4" fill="#f0f0f0"/>
<circle cx="218.7" cy="863.5" r="0.6" fill="#888"/><circle cx="226.5" cy="863.5" r="0.6" fill="#888"/>
<circle cx="223.9" cy="890.2" r="1.1" fill="#151515"/>
<circle cx="231" cy="889.7" r="3.1" fill="#c9c63a"/><circle cx="231" cy="889.7" r="1.5" fill="#dcd95a"/>
<circle cx="73.3" cy="902.2" r="4.6" fill="#131313"/><circle cx="251.1" cy="902.2" r="4.6" fill="#131313"/>
</svg>
</body></html>
